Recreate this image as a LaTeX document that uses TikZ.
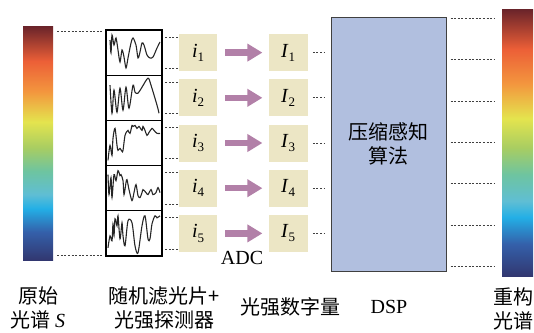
\documentclass[tikz,border=0pt]{standalone}
\usepackage{fontspec}
\setmainfont{Liberation Serif}
\newfontfamily\cjk{Noto Sans CJK SC}
\usetikzlibrary{arrows.meta, positioning}

\definecolor{boxfill}{RGB}{236,230,197}
\definecolor{dspfill}{RGB}{177,191,223}
\definecolor{arrowmauve}{RGB}{178,128,168}
\definecolor{specdark}{RGB}{105,35,42}
\definecolor{specred}{RGB}{236,95,55}
\definecolor{specorange}{RGB}{243,150,62}
\definecolor{specyellow}{RGB}{228,228,78}
\definecolor{specgreen}{RGB}{168,205,98}
\definecolor{specteal}{RGB}{110,196,160}
\definecolor{speclcyan}{RGB}{95,190,212}
\definecolor{speccyan}{RGB}{35,175,230}
\definecolor{specblue}{RGB}{52,96,170}
\definecolor{specnavy}{RGB}{50,55,112}

\pgfdeclareverticalshading{spectrum}{100bp}{color(0bp)=(specnavy); color(25bp)=(specnavy);
  color(31bp)=(specblue); color(36bp)=(speccyan); color(39bp)=(speclcyan); color(44bp)=(specteal);
  color(49bp)=(specgreen); color(54.5bp)=(specyellow); color(61bp)=(specorange);
  color(67.5bp)=(specred); color(75bp)=(specdark); color(100bp)=(specdark)}

\newcommand{\lab}[2]{\textit{#1}\raisebox{-0.45ex}{\fontsize{13}{13}\selectfont #2}}

\begin{document}
\begin{tikzpicture}[
  x=1pt, y=-1pt,
  every node/.style={font=\fontsize{20}{24}\selectfont},
  bar/.style={rectangle, shade, shading=spectrum, draw=none, minimum width=30pt, inner sep=0pt},
  filterbox/.style={rectangle, draw=black, line width=1.2pt, minimum width=56pt, minimum height=45.2pt, inner sep=0pt, outer sep=0pt},
  databox/.style={rectangle, fill=boxfill, minimum width=38pt, minimum height=37pt, inner sep=0pt},
  dspbox/.style={rectangle, draw=black!75, fill=dspfill, line width=1pt, minimum width=115pt, minimum height=254pt, align=center, font=\fontsize{20}{24}\selectfont\cjk},
  wave/.style={draw=black!85, line width=1.1pt},
  dots/.style={draw=black!75, line width=0.7pt, dash pattern=on 2pt off 1.6pt},
  line/.style={draw=arrowmauve, line width=6.5pt, -{Triangle[length=15pt,width=17pt]}, shorten <=8pt, shorten >=6pt},
  caption/.style={align=center, font=\fontsize{20}{24}\selectfont\cjk}
]
  \useasboundingbox (0,0) rectangle (534,332);

  \node [bar, minimum height=234pt] (lbar) at (38,143) {};
  \node [bar, minimum width=31pt, minimum height=267pt] (rbar) at (517.5,142.5) {};

  \node [filterbox] (f1) at (134,52.6) {};
  \node [filterbox, below=0pt of f1] (f2) {};
  \node [filterbox, below=0pt of f2] (f3) {};
  \node [filterbox, below=0pt of f3] (f4) {};
  \node [filterbox, below=0pt of f4] (f5) {};

  \node [databox, right=17pt of f1] (i1) {\lab{i}{1}};
  \node [databox, right=17pt of f2] (i2) {\lab{i}{2}};
  \node [databox, right=17pt of f3] (i3) {\lab{i}{3}};
  \node [databox, right=17pt of f4] (i4) {\lab{i}{4}};
  \node [databox, right=17pt of f5] (i5) {\lab{i}{5}};

  \node [databox, minimum width=39pt, right=51pt of i1] (I1) {\lab{I}{1}};
  \node [databox, minimum width=39pt, right=51pt of i2] (I2) {\lab{I}{2}};
  \node [databox, minimum width=39pt, right=51pt of i3] (I3) {\lab{I}{3}};
  \node [databox, minimum width=39pt, right=51pt of i4] (I4) {\lab{I}{4}};
  \node [databox, minimum width=39pt, right=51pt of i5] (I5) {\lab{I}{5}};

  \node [dspbox] (dsp) at (388.5,144) {压缩感知\\算法};

  \node [caption] (lcap) at (38,308) {原始\\光谱 {\rmfamily\itshape S}};
  \node [caption] (fcap) at (164,308) {随机滤光片+\\光强探测器};
  \node [caption] (qcap) at (290,307) {光强数字量};
  \node (dcap) at (389,307) {DSP};
  \node [caption] (rcap) at (513,309) {重构\\光谱};
  \node (adc) at (242,258) {ADC};

  \draw [wave, shift={(f1.north west)}] plot [smooth] coordinates {(4,10) (5,23) (6,5) (8,15) (10,8) (12,20) (14,32) (16,20) (18,27) (20,38) (22,28) (25,13) (27,8) (30,15) (32,28) (34,22) (36,13) (38,15) (41,25) (44,28) (47,27) (51,18) (54,12)};
  \draw [wave, shift={(f2.north west)}] plot [smooth] coordinates {(4,10) (6,38) (8,15) (11,37) (14,13) (17,35) (20,12) (23,33) (27,10) (29,17) (32,18) (36,12) (42,3) (45,10) (51,30) (53,38)};
  \draw [wave, shift={(f3.north west)}] plot [smooth] coordinates {(2,40) (4,25) (6,35) (7,18) (9,8) (11,25) (12,30) (14,28) (16,31) (17,30) (19,15) (21,11) (22,10) (24,13) (26,5) (27,6) (29,5) (31,8) (33,6) (36,10) (37,6) (39,10) (41,15) (43,12) (46,8) (48,10) (51,13) (54,13)};
  \draw [wave, shift={(f4.north west)}] plot [smooth] coordinates {(2,9) (3,29) (5,12) (6,32) (8,9) (10,15) (12,5) (14,10) (15,9) (17,15) (18,29) (20,17) (21,14) (23,24) (26,35) (28,27) (30,19) (32,30) (34,32) (36,27) (37,24) (40,27) (42,29) (45,24) (47,29) (50,27) (52,22) (54,27)};
  \draw [wave, shift={(f5.north west)}] plot [smooth] coordinates {(2,37) (4,25) (6,30) (7,13) (8,25) (9,8) (11,15) (12,5) (14,28) (16,12) (17,25) (19,35) (22,10) (26,12) (29,35) (32,42) (36,15) (39,5) (42,28) (44,28) (46,13) (49,5) (51,7) (54,5)};

  \draw [line] (i1) -- (I1);
  \draw [line] (i2) -- (I2);
  \draw [line] (i3) -- (I3);
  \draw [line] (i4) -- (I4);
  \draw [line] (i5) -- (I5);

  \draw [dots, shorten <=4pt, shorten >=4pt] ([yshift=-6pt]lbar.north east) -- ([yshift=-6pt]lbar.north east -| f1.west);
  \draw [dots, shorten <=4pt, shorten >=4pt] ([yshift=5pt]lbar.south east) -- ([yshift=5pt]lbar.south east -| f5.west);

  \draw [dots, shorten <=1pt, shorten >=2pt] ([yshift=-3pt]i1.north west) -- ([yshift=-3pt]i1.north west -| f1.east);
  \draw [dots, shorten <=1pt, shorten >=2pt] ([yshift=3pt]i1.south west) -- ([yshift=3pt]i1.south west -| f1.east);
  \draw [dots, shorten <=1pt, shorten >=2pt] ([yshift=-3pt]i2.north west) -- ([yshift=-3pt]i2.north west -| f2.east);
  \draw [dots, shorten <=1pt, shorten >=2pt] ([yshift=3pt]i2.south west) -- ([yshift=3pt]i2.south west -| f2.east);
  \draw [dots, shorten <=1pt, shorten >=2pt] ([yshift=-3pt]i3.north west) -- ([yshift=-3pt]i3.north west -| f3.east);
  \draw [dots, shorten <=1pt, shorten >=2pt] ([yshift=3pt]i3.south west) -- ([yshift=3pt]i3.south west -| f3.east);
  \draw [dots, shorten <=1pt, shorten >=2pt] ([yshift=-3pt]i4.north west) -- ([yshift=-3pt]i4.north west -| f4.east);
  \draw [dots, shorten <=1pt, shorten >=2pt] ([yshift=3pt]i4.south west) -- ([yshift=3pt]i4.south west -| f4.east);
  \draw [dots, shorten <=1pt, shorten >=2pt] ([yshift=-3pt]i5.north west) -- ([yshift=-3pt]i5.north west -| f5.east);
  \draw [dots, shorten <=1pt, shorten >=2pt] ([yshift=3pt]i5.south west) -- ([yshift=3pt]i5.south west -| f5.east);

  \draw [dots, shorten <=5pt, shorten >=6pt] (I1.east) -- (I1.east -| dsp.west);
  \draw [dots, shorten <=5pt, shorten >=6pt] (I2.east) -- (I2.east -| dsp.west);
  \draw [dots, shorten <=5pt, shorten >=6pt] (I3.east) -- (I3.east -| dsp.west);
  \draw [dots, shorten <=5pt, shorten >=6pt] (I4.east) -- (I4.east -| dsp.west);
  \draw [dots, shorten <=5pt, shorten >=6pt] (I5.east) -- (I5.east -| dsp.west);

  \foreach \d in {2,43.3,84.7,126,167.3,208.7,250}
    \draw [dots, shorten <=4pt, shorten >=7pt] ([yshift=-\d pt]dsp.north east) -- ([yshift=-\d pt]dsp.north east -| rbar.west);
\end{tikzpicture}
\end{document}
